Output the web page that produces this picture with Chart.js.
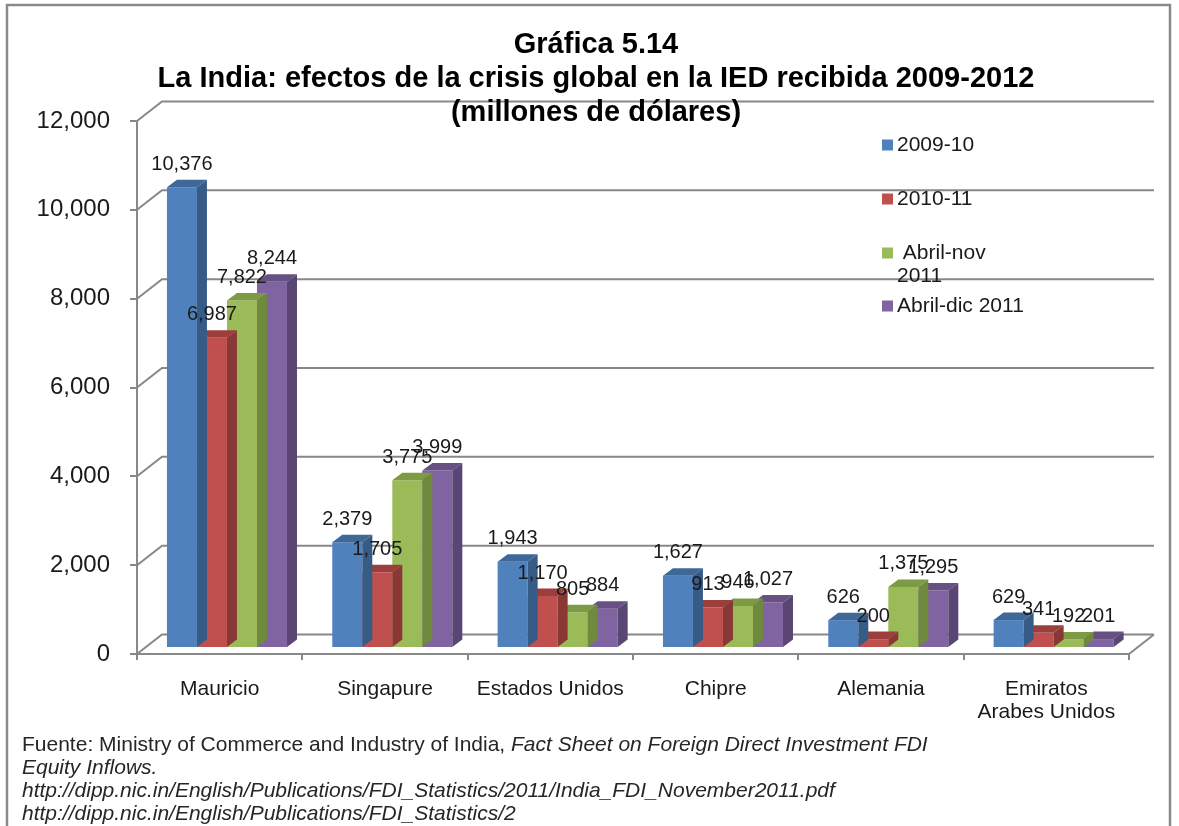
<!DOCTYPE html>
<html>
<head>
<meta charset="utf-8">
<script src="https://cdn.jsdelivr.net/npm/chart.js@4.4.1/dist/chart.umd.min.js"></script>
<style>
  html, body { margin: 0; padding: 0; background: #ffffff; }
  canvas { display: block; }
</style>
</head>
<body>
<canvas id="fdi" width="1179" height="826"></canvas>
<script>
// Inversión extranjera directa recibida por la India, millones de dólares
const categories = ['Mauricio', 'Singapure', 'Estados Unidos', 'Chipre', 'Alemania', ['Emiratos', 'Arabes Unidos']];
const seriesLabels = ['2009-10', '2010-11', 'Abril-nov 2011', 'Abril-dic 2011'];
const legendLines = [['2009-10'], ['2010-11'], [' Abril-nov', '2011'], ['Abril-dic 2011']];
const fdi2009_10 = [10376, 2379, 1943, 1627, 626, 629];
const fdi2010_11 = [6987, 1705, 1170, 913, 200, 341];
const fdiAbrNov2011 = [7822, 3775, 805, 946, 1375, 192];
const fdiAbrDic2011 = [8244, 3999, 884, 1027, 1295, 201];
const yTicks = [0, 2000, 4000, 6000, 8000, 10000, 12000];

const titleLines = ['Gráfica 5.14', 'La India: efectos de la crisis global en la IED recibida 2009-2012', '(millones de dólares)'];

// colours: front face, top face, side face
const palette = [
  { front: '#4F81BD', top: '#3E6898', side: '#375B87' },
  { front: '#C0504D', top: '#9C3F3C', side: '#8A3836' },
  { front: '#9BBB59', top: '#7D9A45', side: '#6F893D' },
  { front: '#8064A2', top: '#675083', side: '#5A4674' }
];

const FONT = '"Liberation Sans", Arial, sans-serif';
const GRID = '#888888';
const WALL_DX = 25, WALL_DY = -19.5;   // back wall offset
const BAR_DX = 10, BAR_DY = -7.5;      // bar depth
const BAR_SHIFT_X = 7.3, BAR_SHIFT_Y = -6;

const seriesValues = [fdi2009_10, fdi2010_11, fdiAbrNov2011, fdiAbrDic2011];

const fmt = v => v.toLocaleString('en-US');

// back wall, floor and depth connectors
const wallPlugin = {
  id: 'wall',
  beforeDatasetsDraw(chart) {
    const { ctx, chartArea: a, scales: { y } } = chart;
    ctx.save();
    ctx.strokeStyle = GRID;
    ctx.lineWidth = 2;
    yTicks.forEach(v => {
      const py = y.getPixelForValue(v);
      ctx.beginPath();
      ctx.moveTo(a.left, py);
      ctx.lineTo(a.left + WALL_DX, py + WALL_DY);
      ctx.lineTo(a.right + WALL_DX, py + WALL_DY);
      ctx.stroke();
    });
    // right edge of the floor
    const p0 = y.getPixelForValue(0);
    ctx.beginPath();
    ctx.moveTo(a.right, p0);
    ctx.lineTo(a.right + WALL_DX, p0 + WALL_DY);
    ctx.stroke();
    ctx.restore();
    // bars sit slightly inside the depth of the box
    ctx.save();
    ctx.translate(BAR_SHIFT_X, BAR_SHIFT_Y);
  },
  afterDatasetDraw(chart, args) {
    const { ctx } = chart;
    const col = palette[args.index];
    args.meta.data.forEach(bar => {
      const { x, y, base, width } = bar.getProps(['x', 'y', 'base', 'width'], true);
      const l = x - width / 2, r = x + width / 2;
      // top face
      ctx.fillStyle = col.top;
      ctx.beginPath();
      ctx.moveTo(l, y);
      ctx.lineTo(r, y);
      ctx.lineTo(r + BAR_DX, y + BAR_DY);
      ctx.lineTo(l + BAR_DX, y + BAR_DY);
      ctx.closePath();
      ctx.fill();
      // side face
      ctx.fillStyle = col.side;
      ctx.beginPath();
      ctx.moveTo(r, y);
      ctx.lineTo(r + BAR_DX, y + BAR_DY);
      ctx.lineTo(r + BAR_DX, base + BAR_DY);
      ctx.lineTo(r, base);
      ctx.closePath();
      ctx.fill();
    });
  },
  afterDatasetsDraw(chart) {
    const { ctx } = chart;
    // value labels above each bar
    ctx.fillStyle = '#1a1a1a';
    ctx.font = '20px ' + FONT;
    ctx.textAlign = 'center';
    ctx.textBaseline = 'middle';
    chart.data.datasets.forEach((ds, i) => {
      chart.getDatasetMeta(i).data.forEach((bar, j) => {
        const { x, y } = bar.getProps(['x', 'y'], true);
        ctx.fillText(fmt(ds.data[j]), x, y - 23);
      });
    });
    ctx.restore();
  }
};

// title, legend, source note and frame
const decorPlugin = {
  id: 'decor',
  beforeDraw(chart) {
    const { ctx, width, height } = chart;
    ctx.save();
    ctx.fillStyle = '#ffffff';
    ctx.fillRect(0, 0, width, height);
    ctx.restore();
  },
  afterDraw(chart) {
    const { ctx } = chart;
    ctx.save();
    // title
    ctx.fillStyle = '#000000';
    ctx.font = 'bold 29px ' + FONT;
    ctx.textAlign = 'center';
    ctx.textBaseline = 'middle';
    const ty = [45, 79, 113];
    titleLines.forEach((t, i) => ctx.fillText(t, 596, ty[i]));

    // legend
    ctx.font = '21px ' + FONT;
    ctx.textAlign = 'left';
    const ly = [145, 199, 253, 306];
    legendLines.forEach((lines, i) => {
      ctx.fillStyle = palette[i].front;
      ctx.fillRect(882, ly[i] - 5.5, 11, 11);
      ctx.fillStyle = '#1a1a1a';
      lines.forEach((t, k) => ctx.fillText(t, 897, ly[i] + k * 23));
    });

    // source note
    ctx.fillStyle = '#262626';
    const fy = [745, 768, 791, 814];
    const fx = 22;
    ctx.font = '21px ' + FONT;
    const first = 'Fuente: Ministry of Commerce and Industry of India, ';
    ctx.fillText(first, fx, fy[0]);
    const w = ctx.measureText(first).width;
    ctx.font = 'italic 21px ' + FONT;
    ctx.fillText('Fact Sheet on Foreign Direct Investment FDI', fx + w, fy[0]);
    ctx.fillText('Equity Inflows.', fx, fy[1]);
    ctx.fillText('http://dipp.nic.in/English/Publications/FDI_Statistics/2011/India_FDI_November2011.pdf', fx, fy[2]);
    ctx.fillText('http://dipp.nic.in/English/Publications/FDI_Statistics/2', fx, fy[3]);

    // frame
    ctx.strokeStyle = '#8a8a8a';
    ctx.lineWidth = 2.5;
    ctx.strokeRect(7, 5, 1163, 840);
    ctx.restore();
  }
};

const datasets = seriesValues.map((vals, i) => ({
  label: seriesLabels[i],
  data: vals,
  backgroundColor: palette[i].front,
  borderWidth: 0,
  categoryPercentage: 0.726,
  barPercentage: 1.0,
  clip: false
}));

new Chart(document.getElementById('fdi'), {
  type: 'bar',
  data: { labels: categories, datasets },
  options: {
    responsive: false,
    animation: false,
    events: [],
    layout: { padding: { top: 121, right: 50, left: 0, bottom: 0 } },
    plugins: { legend: { display: false }, title: { display: false }, tooltip: { enabled: false } },
    scales: {
      x: {
        grid: { drawOnChartArea: false, drawTicks: true, tickLength: 6, color: GRID, lineWidth: 2, offset: true },
        border: { display: true, color: GRID, width: 2 },
        ticks: { color: '#1a1a1a', font: { family: FONT, size: 21, lineHeight: 1.1 }, padding: 18, maxRotation: 0, autoSkip: false },
        afterFit(s) { s.height = 172; }
      },
      y: {
        min: 0,
        max: 12000,
        afterBuildTicks(s) { s.ticks = yTicks.map(v => ({ value: v })); },
        grid: { drawOnChartArea: false, drawTicks: true, tickLength: 7, color: GRID, lineWidth: 2 },
        border: { display: true, color: GRID, width: 2 },
        ticks: { color: '#1a1a1a', font: { family: FONT, size: 24 }, padding: 20, callback: v => fmt(v) },
        afterFit(s) { s.width = 137; }
      }
    }
  },
  plugins: [wallPlugin, decorPlugin]
});
</script>
</body>
</html>
